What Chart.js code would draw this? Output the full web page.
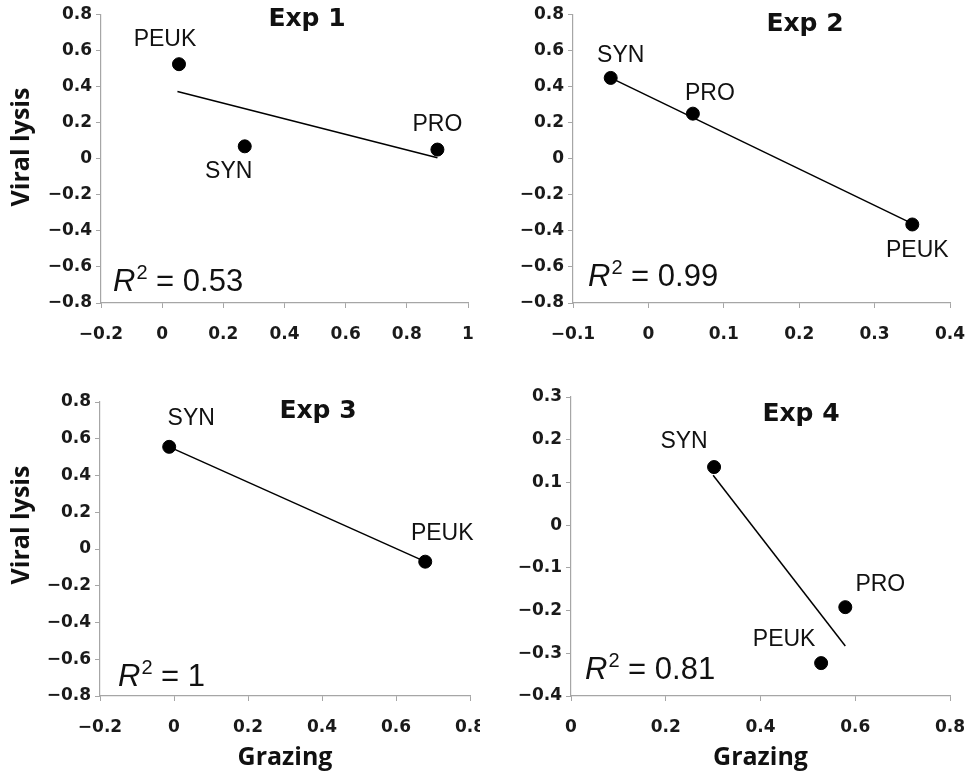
<!DOCTYPE html>
<html>
<head>
<meta charset="utf-8">
<script src="https://cdn.jsdelivr.net/npm/chart.js@4.4.1/dist/chart.umd.min.js"></script>
<style>
  html, body { margin: 0; padding: 0; background: #fff; }
  #wrap { position: relative; width: 967px; height: 776px; overflow: hidden; }
  .panel { position: absolute; overflow: hidden; }
  canvas { display: block; }
</style>
</head>
<body>
<div id="wrap">
  <div class="panel" style="left:0;top:0;width:480px;height:380px"><canvas id="exp1" width="500" height="380"></canvas></div>
  <div class="panel" style="left:480px;top:0;width:487px;height:380px"><canvas id="exp2" width="507" height="380"></canvas></div>
  <div class="panel" style="left:0;top:380px;width:480px;height:396px"><canvas id="exp3" width="500" height="396"></canvas></div>
  <div class="panel" style="left:480px;top:380px;width:487px;height:396px"><canvas id="exp4" width="507" height="396"></canvas></div>
</div>
<script>
// values
const exp1Names = ['PEUK', 'SYN', 'PRO'];
const exp1Grazing = [0.055, 0.27, 0.90];
const exp1Lysis = [0.523, 0.068, 0.05];
const exp1TrendX = [0.05, 0.90];
const exp1TrendY = [0.372, 0.005];
const exp1R2 = '0.53';

const exp2Names = ['SYN', 'PRO', 'PEUK'];
const exp2Grazing = [-0.05, 0.059, 0.35];
const exp2Lysis = [0.447, 0.249, -0.365];
const exp2TrendX = [-0.05, 0.35];
const exp2TrendY = [0.447, -0.36];
const exp2R2 = '0.99';

const exp3Names = ['SYN', 'PEUK'];
const exp3Grazing = [-0.013, 0.679];
const exp3Lysis = [0.556, -0.069];
const exp3TrendX = [-0.013, 0.679];
const exp3TrendY = [0.556, -0.069];
const exp3R2 = '1';

const exp4Names = ['SYN', 'PRO', 'PEUK'];
const exp4Grazing = [0.302, 0.579, 0.528];
const exp4Lysis = [0.136, -0.192, -0.323];
const exp4TrendX = [0.30, 0.579];
const exp4TrendY = [0.117, -0.283];
const exp4R2 = '0.81';

// axis ranges [min, max, step]
const exp1XRange = [-0.2, 1, 0.2];
const exp1YRange = [-0.8, 0.8, 0.2];
const exp2XRange = [-0.1, 0.4, 0.1];
const exp2YRange = [-0.8, 0.8, 0.2];
const exp3XRange = [-0.2, 0.8, 0.2];
const exp3YRange = [-0.8, 0.8, 0.2];
const exp4XRange = [0, 0.8, 0.2];
const exp4YRange = [-0.4, 0.3, 0.1];

const AXIS = '#a6a6a6';
const INK = '#111';
const Y_TICK_FONT = { family: '"DejaVu Sans", sans-serif', size: 17, weight: 'bold' };
// tall line height pushes the x labels down without widening the side padding
const X_TICK_FONT = { family: '"DejaVu Sans", sans-serif', size: 17, weight: 'bold', lineHeight: 2.8 };

function fmt(v) {
  const r = Math.round(v * 10) / 10;
  const s = String(Math.abs(r));
  return r < 0 ? '\u2212' + s : s;
}

function panel(id, o) {
  const pts = o.names.map((n, i) => ({ x: o.gx[i], y: o.vy[i] }));
  const trend = o.tx.map((x, i) => ({ x: x, y: o.ty[i] }));

  const textPlugin = {
    id: 'txt' + id,
    afterDatasetsDraw(chart) {
      const c = chart.ctx;
      const a = chart.chartArea;
      const meta = chart.getDatasetMeta(0).data;
      c.save();
      c.fillStyle = INK;
      c.textAlign = 'center';
      c.textBaseline = 'middle';
      // point labels
      c.font = '23px "Liberation Sans", Arial, sans-serif';
      o.names.forEach((n, i) => {
        const p = meta[i];
        c.fillText(n, p.x + o.off[i][0], p.y + o.off[i][1]);
      });
      // panel title
      c.font = 'bold 25px "DejaVu Sans", sans-serif';
      c.fillText(o.title, o.titlePos[0], o.titlePos[1]);
      // R squared
      c.textAlign = 'left';
      let x = o.r2Pos[0];
      const y = o.r2Pos[1];
      c.font = 'italic 31px "Liberation Sans", Arial, sans-serif';
      c.fillText('R', x, y);
      x += c.measureText('R').width + 1;
      c.font = '20px "Liberation Sans", Arial, sans-serif';
      c.fillText('2', x, y - 9);
      x += c.measureText('2').width;
      c.font = '31px "Liberation Sans", Arial, sans-serif';
      c.fillText(' = ' + o.r2, x, y);
      // axis titles
      c.textAlign = 'center';
      c.font = 'bold 25px "Open Sans", sans-serif';
      if (o.yTitle) {
        c.save();
        c.translate(o.yTitle[0], o.yTitle[1]);
        c.rotate(-Math.PI / 2);
        c.fillText('Viral lysis', 0, 0);
        c.restore();
      }
      if (o.xTitle) {
        c.fillText('Grazing', (a.left + a.right) / 2, o.xTitle);
      }
      c.restore();
    }
  };

  new Chart(document.getElementById(id), {
    type: 'scatter',
    data: {
      datasets: [
        {
          data: pts,
          pointRadius: 6.5,
          pointHoverRadius: 6.5,
          backgroundColor: '#000',
          borderColor: '#000',
          order: 1
        },
        {
          type: 'line',
          data: trend,
          showLine: true,
          borderColor: '#000',
          borderWidth: 1.5,
          pointRadius: 0,
          fill: false,
          order: 2
        }
      ]
    },
    options: {
      responsive: false,
      animation: false,
      events: [],
      layout: { padding: { top: o.top, right: o.right, left: 0, bottom: 0 } },
      plugins: { legend: { display: false }, tooltip: { enabled: false } },
      scales: {
        x: {
          type: 'linear',
          min: o.xr[0], max: o.xr[1],
          afterBuildTicks(s) {
            const t = [];
            for (let v = o.xr[0]; v <= o.xr[1] + 1e-9; v += o.xr[2]) t.push({ value: Math.round(v * 100) / 100 });
            s.ticks = t;
          },
          afterFit(s) { s.height = o.xh; },
          grid: { drawOnChartArea: false, drawTicks: true, tickLength: 5, color: AXIS },
          border: { color: AXIS, width: 1.2 },
          ticks: {
            autoSkip: false, maxRotation: 0, padding: 3,
            color: '#1a1a1a',
            font: X_TICK_FONT,
            callback: fmt
          }
        },
        y: {
          type: 'linear',
          min: o.yr[0], max: o.yr[1],
          afterBuildTicks(s) {
            const t = [];
            for (let v = o.yr[0]; v <= o.yr[1] + 1e-9; v += o.yr[2]) t.push({ value: Math.round(v * 100) / 100 });
            s.ticks = t;
          },
          afterFit(s) { s.width = o.yw; },
          grid: { drawOnChartArea: false, drawTicks: true, tickLength: 5, color: AXIS },
          border: { color: AXIS, width: 1.2 },
          ticks: {
            autoSkip: false, padding: 4,
            color: '#1a1a1a',
            font: Y_TICK_FONT,
            callback: fmt
          }
        }
      }
    },
    plugins: [textPlugin]
  });
}

panel('exp1', {
  names: exp1Names, gx: exp1Grazing, vy: exp1Lysis, tx: exp1TrendX, ty: exp1TrendY, r2: exp1R2,
  xr: exp1XRange, yr: exp1YRange, title: 'Exp 1',
  yw: 101, xh: 77, top: 13, right: 32,
  off: [[-14, -25], [-16, 25], [0, -25]],
  titlePos: [307, 19], r2Pos: [113, 282], yTitle: [22, 147]
});
panel('exp2', {
  names: exp2Names, gx: exp2Grazing, vy: exp2Lysis, tx: exp2TrendX, ty: exp2TrendY, r2: exp2R2,
  xr: exp2XRange, yr: exp2YRange, title: 'Exp 2',
  yw: 93, xh: 77, top: 13, right: 37,
  off: [[10, -22], [17, -20], [5, 26]],
  titlePos: [325, 24], r2Pos: [108, 277]
});
panel('exp3', {
  names: exp3Names, gx: exp3Grazing, vy: exp3Lysis, tx: exp3TrendX, ty: exp3TrendY, r2: exp3R2,
  xr: exp3XRange, yr: exp3YRange, title: 'Exp 3',
  yw: 100, xh: 80, top: 22, right: 30,
  off: [[22, -28], [17, -28]],
  titlePos: [318, 31], r2Pos: [118, 297], yTitle: [22, 145], xTitle: 378
});
panel('exp4', {
  names: exp4Names, gx: exp4Grazing, vy: exp4Lysis, tx: exp4TrendX, ty: exp4TrendY, r2: exp4R2,
  xr: exp4XRange, yr: exp4YRange, title: 'Exp 4',
  yw: 91, xh: 80, top: 17, right: 37,
  off: [[-30, -25], [35, -22], [-37, -23]],
  titlePos: [321, 34], r2Pos: [105, 290], xTitle: 378
});
</script>
</body>
</html>
